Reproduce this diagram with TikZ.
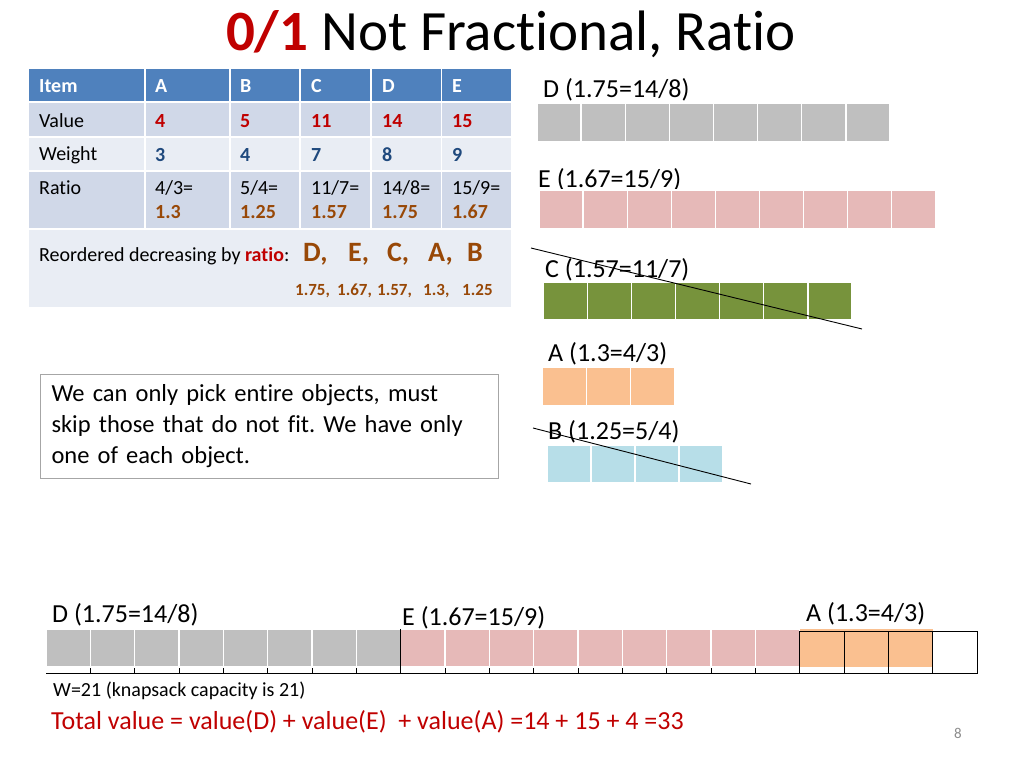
\documentclass[tikz,border=0pt]{standalone}
\usepackage{fontspec}
\setmainfont{Carlito}[Ligatures=NoCommon]
\definecolor{hdr}{HTML}{4F81BD}
\definecolor{rowdark}{HTML}{D0D8E8}
\definecolor{rowlight}{HTML}{E9EDF4}
\definecolor{valred}{HTML}{C00000}
\definecolor{wblue}{HTML}{1F497D}
\definecolor{brn}{HTML}{984807}
\definecolor{dgray}{HTML}{BFBFBF}
\definecolor{epink}{HTML}{E6B9B8}
\definecolor{cgreen}{HTML}{77933C}
\definecolor{aorange}{HTML}{FAC090}
\definecolor{bblue}{HTML}{B7DEE8}
\definecolor{boxgray}{HTML}{A6A6A6}
\definecolor{pgnum}{HTML}{8C8C8C}
\newcommand{\fs}[1]{\fontsize{#1}{#1}\selectfont}
\tikzset{
  tcell/.style={anchor=west, inner sep=0pt, font=\fs{20}},
  tbold/.style={tcell, font=\fs{20}\bfseries},
  barlabel/.style={anchor=west, inner sep=0pt, font=\fs{26}},
  cellbox/.style={draw=white, line width=1.3pt},
  kcell/.style={draw=white, line width=1.6pt},
  grid/.style={draw=black, line width=0.9pt},
  strike/.style={draw=black, line width=0.9pt},
}
\frenchspacing
\begin{document}
\begin{tikzpicture}[x=1pt,y=-1pt]
\useasboundingbox (0,0) rectangle (1024,768);
\fill[white] (0,0) rectangle (1024,768);

% title
\node[anchor=base, inner sep=0pt, font=\fs{57}] (title) at (511,51) {\textbf{\color{valred}0/1} Not Fractional, Ratio};

% ---------- table ----------
\def\cols{29/144,146/229,231/299,301/370,372/441,442/511}
\foreach \a/\b in \cols {
  \fill[hdr] (\a,69) rectangle (\b,101);
  \fill[rowdark] (\a,103) rectangle (\b,136);
  \fill[rowlight] (\a,138) rectangle (\b,170);
  \fill[rowdark] (\a,172) rectangle (\b,228);
}
\fill[rowlight] (29,230) rectangle (511,307);

\node[tbold, text=white] (hItem) at (39,86) {Item};
\node[tbold, text=white] (hA) at (155,86) {A};
\node[tbold, text=white] (hB) at (240,86) {B};
\node[tbold, text=white] (hC) at (311,86) {C};
\node[tbold, text=white] (hD) at (382,86) {D};
\node[tbold, text=white] (hE) at (452,86) {E};

\node[tcell] (lValue) at (39,121) {Value};
\node[tbold, text=valred] (vA) at (155,121) {4};
\node[tbold, text=valred] (vB) at (240,121) {5};
\node[tbold, text=valred] (vC) at (311,121) {11};
\node[tbold, text=valred] (vD) at (382,121) {14};
\node[tbold, text=valred] (vE) at (452,121) {15};

\node[tcell] (lWeight) at (39,155) {Weight};
\node[tbold, text=wblue] (wA) at (155,155) {3};
\node[tbold, text=wblue] (wB) at (240,155) {4};
\node[tbold, text=wblue] (wC) at (311,155) {7};
\node[tbold, text=wblue] (wD) at (382,155) {8};
\node[tbold, text=wblue] (wE) at (452,155) {9};

\node[tcell] (lRatio) at (39,188) {Ratio};
\node[tcell] (rA) at (155,188) {4/3=};
\node[tcell] (rB) at (240,188) {5/4=};
\node[tcell] (rC) at (311,188) {11/7=};
\node[tcell] (rD) at (382,188) {14/8=};
\node[tcell] (rE) at (452,188) {15/9=};
\node[tbold, text=brn] (qA) at (155,212) {1.3};
\node[tbold, text=brn] (qB) at (240,212) {1.25};
\node[tbold, text=brn] (qC) at (311,212) {1.57};
\node[tbold, text=brn] (qD) at (382,212) {1.75};
\node[tbold, text=brn] (qE) at (452,212) {1.67};

\node[tcell, anchor=base west] (reord) at (39,261) {Reordered decreasing by \textcolor{valred}{\textbf{ratio}}:};
\node[tcell, anchor=base west, text=brn, font=\fs{28}\bfseries] (order) at (303,261)
  {\makebox[45pt][l]{D,}\makebox[39pt][l]{E,}\makebox[41pt][l]{C,}\makebox[39pt][l]{A,}B};
\node[tcell, anchor=base west, text=brn, font=\fs{17}\bfseries] (ordnum) at (295,295)
  {\makebox[42pt][l]{1.75,}\makebox[40pt][l]{1.67,}\makebox[46pt][l]{1.57,}\makebox[39pt][l]{1.3,}1.25};

% ---------- right bars ----------
\node[barlabel] (labD) at (543,90) {D (1.75=14/8)};
\foreach \i in {0,...,7} \fill[dgray, cellbox] ({537+\i*44.12},103) rectangle ({537+(\i+1)*44.12},142);

\node[barlabel] (labE) at (538,180) {E (1.67=15/9)};
\foreach \i in {0,...,8} \fill[epink, cellbox] ({539+\i*44.1},190) rectangle ({539+(\i+1)*44.1},229);

\node[barlabel] (labC) at (545,270) {C (1.57=11/7)};
\foreach \i in {0,...,6} \fill[cgreen, cellbox] ({543+\i*44.14},282) rectangle ({543+(\i+1)*44.14},320);
\coordinate (c1) at (531,248);
\coordinate (c2) at (862,329);
\draw[strike] (c1) -- (c2);

\node[barlabel] (labA) at (548,354) {A (1.3=4/3)};
\foreach \i in {0,...,2} \fill[aorange, cellbox] ({542+\i*44.33},367) rectangle ({542+(\i+1)*44.33},406);

\node[barlabel] (labB) at (548,432) {B (1.25=5/4)};
\foreach \i in {0,...,3} \fill[bblue, cellbox] ({547+\i*44},445) rectangle ({547+(\i+1)*44},483);
\coordinate (b1) at (533,428);
\coordinate (b2) at (751,484);
\draw[strike] (b1) -- (b2);

% ---------- note box ----------
\node[draw=boxgray, line width=1pt, anchor=north west, text width=436pt, align=left,
      inner xsep=11pt, inner ysep=0pt, minimum height=104pt, font=\fontsize{24.5}{31}\selectfont] (note) at (40,374)
  {We can only pick entire objects, must\\skip those that do not fit. We have only\\one of each object.};

% ---------- knapsack bar ----------
\def\cw{44.333}
% A boxes (under grid)
\foreach \i in {17,18,19} \fill[aorange] ({46+\i*\cw},629) rectangle ({46+(\i+1)*\cw},667);
% D and E boxes
\foreach \i in {0,...,7} \fill[dgray, kcell] ({46+\i*\cw},629) rectangle ({46+(\i+1)*\cw},667);
\foreach \i in {8,...,16} \fill[epink, kcell] ({46+\i*\cw},629) rectangle ({46+(\i+1)*\cw},667);
% grid: bottom line with ticks, full cells where nothing covers them
\draw[grid] (46,673) -- (977,673) -- (977,631) -- ({46+17*\cw},631);
\foreach \i in {1,...,16} \draw[grid] ({46+\i*\cw},668) -- ({46+\i*\cw},673);
\foreach \i in {17,...,20} \draw[grid] ({46+\i*\cw},631) -- ({46+\i*\cw},673);
\draw[grid] ({46+8*\cw},629) -- ({46+8*\cw},673);

\node[barlabel] (kD) at (52,615) {D (1.75=14/8)};
\node[barlabel] (kE) at (402,618) {E (1.67=15/9)};
\node[barlabel] (kA) at (806,614) {A (1.3=4/3)};

\node[anchor=west, inner sep=0pt, font=\fs{20}] (cap) at (53,691) {W=21 (knapsack capacity is 21)};
\node[anchor=west, inner sep=0pt, font=\fs{26}, text=valred] (total) at (51,722) {Total value = value(D) + value(E)\ \ + value(A) =14 + 15 + 4 =33};

\node[inner sep=0pt, font=\fs{15}, text=pgnum] (page) at (958,733) {8};
\end{tikzpicture}
\end{document}
